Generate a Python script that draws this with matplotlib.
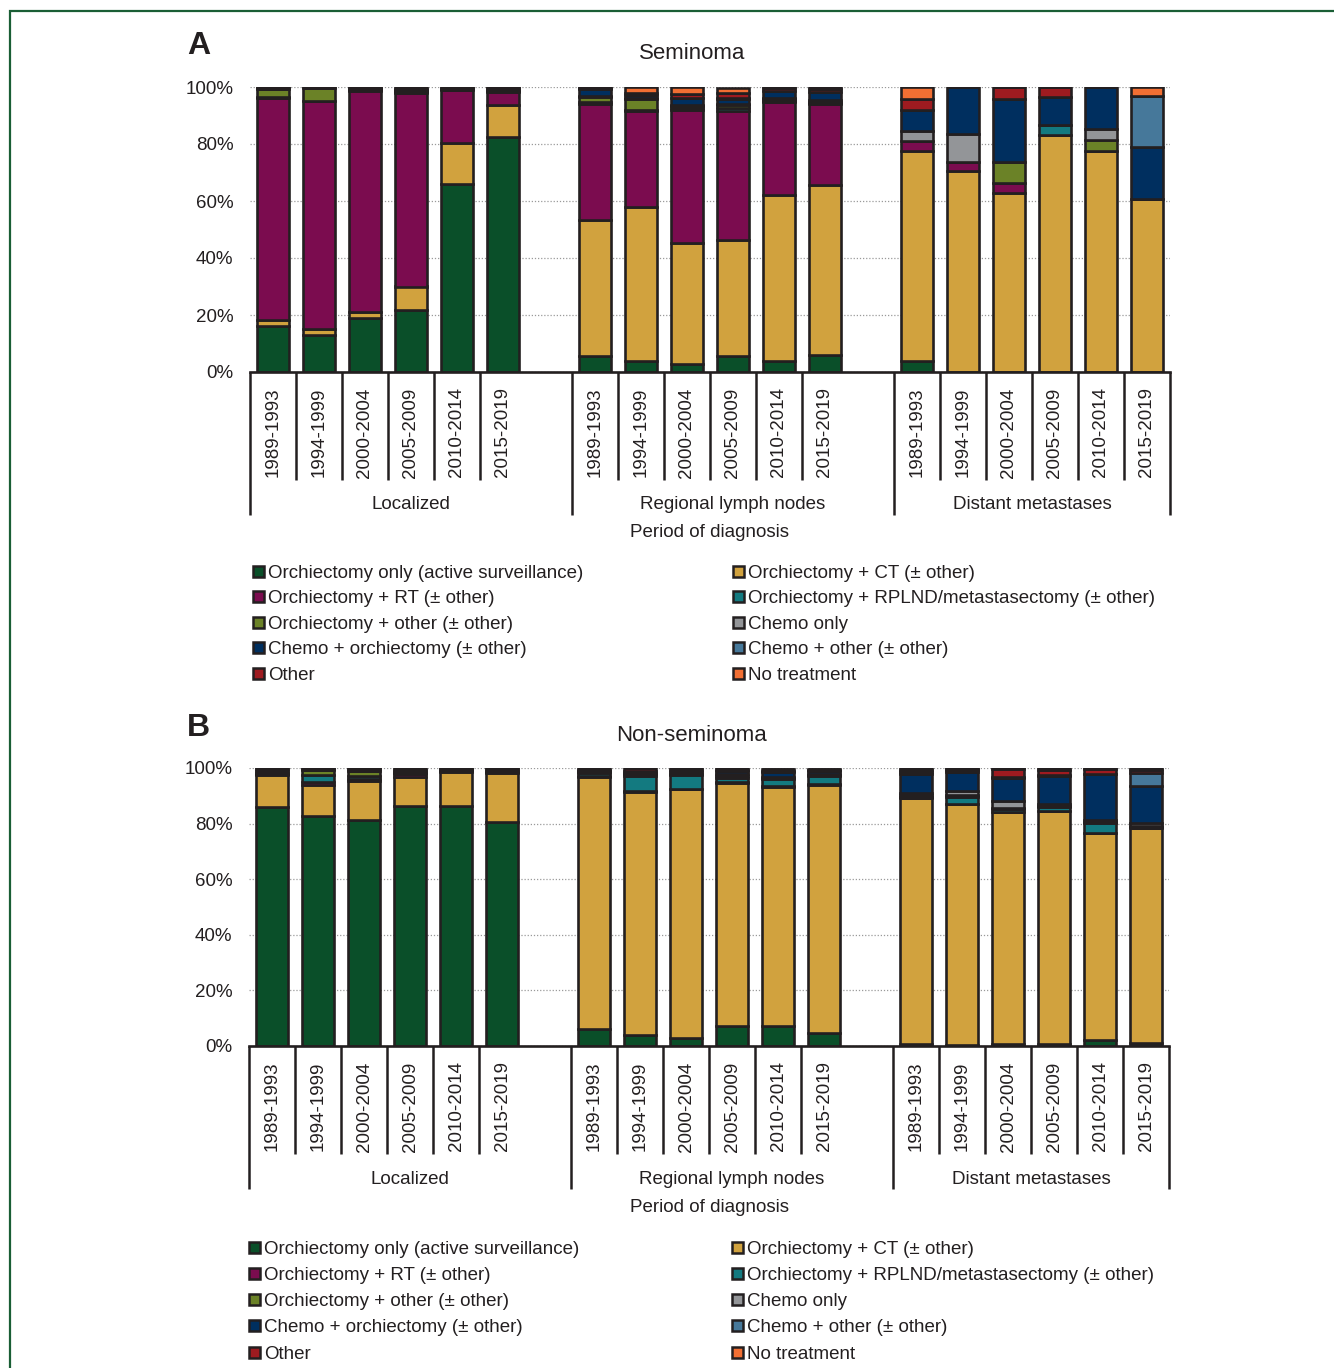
import numpy as np
import matplotlib
matplotlib.use("Agg")
from matplotlib import pyplot as plt
from matplotlib.patches import Rectangle
from matplotlib.transforms import blended_transform_factory

plt.rcParams['font.family'] = ['Liberation Sans', 'DejaVu Sans']

INK = '#231f20'

periods = ['1989-1993', '1994-1999', '2000-2004', '2005-2009', '2010-2014', '2015-2019']
stages = ['Localized', 'Regional lymph nodes', 'Distant metastases']

treatments = [
    'Orchiectomy only (active surveillance)',
    'Orchiectomy + CT (± other)',
    'Orchiectomy + RT (± other)',
    'Orchiectomy + RPLND/metastasectomy (± other)',
    'Orchiectomy + other (± other)',
    'Chemo only',
    'Chemo + orchiectomy (± other)',
    'Chemo + other (± other)',
    'Other',
    'No treatment',
]
colors = ['#0a4f29', '#d1a23e', '#7b0c4f', '#137a80', '#6b8227',
          '#939598', '#002f5f', '#46789a', '#9e1b20', '#f26f33']

# percentages per bar: rows = treatments (same order as above),
# columns = 6 periods x 3 stages (localized, regional, distant)
seminoma = np.array([
    # orchiectomy only
    [16.3, 13.1, 19.0, 21.8, 65.8, 82.3,   5.7, 3.7, 2.8, 5.5, 3.7, 6.0,    3.7, 0.0, 0.0, 0.0, 0.0, 0.0],
    # + CT
    [1.8, 1.9, 2.0, 8.2, 14.6, 11.3,       47.6, 54.3, 42.6, 40.8, 58.4, 59.6,   73.9, 70.6, 62.7, 83.1, 77.6, 60.6],
    # + RT
    [78.2, 80.0, 77.6, 68.0, 18.4, 4.6,    40.6, 33.6, 46.7, 45.2, 32.6, 28.3,   3.4, 3.1, 3.7, 0.0, 0.0, 0.0],
    # + RPLND
    [0.2, 0.2, 0.2, 0.3, 0.3, 0.3,         0.7, 0.3, 0.6, 1.0, 0.5, 0.5,    0.0, 0.0, 0.0, 3.5, 0.0, 0.0],
    # + other
    [2.9, 4.4, 0.4, 0.3, 0.3, 0.3,         2.0, 4.0, 0.8, 1.2, 0.5, 0.5,    0.0, 0.0, 7.3, 0.0, 3.7, 0.0],
    # chemo only
    [0.0, 0.0, 0.0, 0.2, 0.0, 0.0,         0.3, 0.3, 0.3, 0.4, 0.5, 0.5,    3.6, 9.7, 0.0, 0.0, 3.8, 0.0],
    # chemo + orchiectomy
    [0.3, 0.2, 0.4, 0.6, 0.4, 0.8,         2.4, 1.0, 2.4, 1.6, 2.5, 2.8,    7.5, 16.6, 22.2, 9.9, 14.9, 18.2],
    # chemo + other
    [0.0, 0.0, 0.0, 0.0, 0.0, 0.0,         0.0, 0.0, 0.0, 0.5, 0.0, 0.0,    0.0, 0.0, 0.0, 0.0, 0.0, 17.9],
    # other
    [0.3, 0.2, 0.4, 0.6, 0.2, 0.4,         0.5, 0.6, 1.5, 1.6, 0.8, 1.0,    3.6, 0.0, 4.1, 3.5, 0.0, 0.0],
    # no treatment
    [0.0, 0.0, 0.0, 0.0, 0.0, 0.0,         0.2, 2.2, 2.3, 1.7, 0.5, 0.8,    4.3, 0.0, 0.0, 0.0, 0.0, 3.3],
])

nonseminoma = np.array([
    # orchiectomy only
    [85.9, 82.7, 81.3, 86.3, 86.5, 80.7,   6.0, 3.8, 3.0, 7.2, 7.2, 4.6,    0.7, 0.5, 0.8, 0.8, 2.2, 1.0],
    # + CT
    [11.6, 11.2, 14.0, 10.6, 11.9, 17.4,   90.9, 87.6, 89.3, 87.3, 86.1, 89.3,   88.4, 86.4, 83.3, 83.9, 74.5, 77.3],
    # + RT
    [0.5, 1.0, 0.8, 0.8, 0.4, 0.4,         0.4, 0.3, 0.3, 0.3, 0.3, 0.3,    0.0, 0.0, 0.0, 0.0, 0.0, 0.0],
    # + RPLND
    [0.3, 2.5, 1.0, 0.5, 0.3, 0.3,         0.8, 5.6, 5.0, 1.5, 2.6, 3.1,    0.6, 2.5, 1.0, 1.2, 3.6, 0.6],
    # + other
    [0.5, 1.9, 2.0, 0.3, 0.3, 0.3,         0.5, 0.6, 0.3, 1.0, 0.3, 0.3,    0.5, 1.0, 0.5, 0.5, 0.3, 0.3],
    # chemo only
    [0.0, 0.0, 0.0, 0.0, 0.0, 0.0,         0.3, 0.3, 0.5, 0.4, 0.3, 0.3,    0.8, 1.3, 2.6, 0.5, 0.8, 1.0],
    # chemo + orchiectomy
    [0.7, 0.4, 0.5, 0.8, 0.3, 0.4,         0.5, 0.9, 1.0, 1.2, 1.9, 1.0,    6.8, 7.0, 8.1, 10.2, 16.3, 13.3],
    # chemo + other
    [0.0, 0.0, 0.0, 0.0, 0.0, 0.0,         0.0, 0.0, 0.0, 0.3, 0.3, 0.3,    0.8, 0.5, 0.5, 0.5, 0.3, 4.8],
    # other
    [0.5, 0.3, 0.4, 0.7, 0.3, 0.5,         0.6, 0.9, 0.6, 0.8, 0.7, 0.6,    0.8, 0.4, 2.9, 1.8, 1.8, 1.0],
    # no treatment
    [0.0, 0.0, 0.0, 0.0, 0.0, 0.0,         0.0, 0.0, 0.0, 0.0, 0.0, 0.0,    0.6, 0.4, 0.3, 0.6, 0.2, 0.7],
])

W, H = 1334, 1368
fig = plt.figure(figsize=(W / 100, H / 100), dpi=100)

# green frame around the figure
fig.patches.append(Rectangle((10 / W, -0.05), 1.1, 1 - 11 / H + 0.05, transform=fig.transFigure,
                             fill=False, edgecolor='#1a5e35', lw=1.6))


def px_box(left, top, right, bottom):
    return [left / W, 1 - bottom / H, (right - left) / W, (bottom - top) / H]


def draw_panel(box, data, title, letter, title_y, letter_y, legend_y, legend_x0, legend_x1,
               row_step):
    ax = fig.add_axes(px_box(*box))
    xpos = np.array([g * 7 + i for g in range(3) for i in range(6)])
    bottom = np.zeros(len(xpos))
    for k, name in enumerate(treatments):
        ax.bar(xpos, data[k], 0.68, bottom=bottom, color=colors[k],
               edgecolor=INK, linewidth=1.9, label=name, zorder=3)
        bottom += data[k]

    ax.set_xlim(-0.5, 19.5)
    ax.set_ylim(0, 100)
    ax.set_yticks(np.arange(0, 101, 20))
    ax.set_yticklabels([f'{v}%' for v in range(0, 101, 20)])
    ax.yaxis.grid(True, color='#9a9a9a', linestyle=(0, (1, 1.5)), linewidth=0.9)
    ax.set_axisbelow(True)
    for s in ['left', 'right', 'top']:
        ax.spines[s].set_visible(False)
    ax.spines['bottom'].set_color(INK)
    ax.spines['bottom'].set_linewidth(1.9)
    ax.spines['bottom'].set_zorder(4)

    ax.set_xticks(xpos)
    ax.set_xticklabels(periods * 3, rotation=90)
    ax.tick_params(axis='both', length=0, labelsize=13.5, colors=INK)
    ax.tick_params(axis='x', pad=11)
    ax.tick_params(axis='y', pad=12)

    # category separators below the axis (offsets in pixels under the baseline)
    height = box[3] - box[1]
    short = -108 / height
    long_ = -143 / height
    tr = blended_transform_factory(ax.transData, ax.transAxes)
    for k in range(21):
        if k in (6, 13):
            continue
        y1 = long_ if k in (0, 7, 14, 20) else short
        ax.plot([k - 0.5, k - 0.5], [0, y1], color=INK, lw=1.8, transform=tr,
                clip_on=False, solid_capstyle='butt')
    for g, stage in enumerate(stages):
        xc = g * 7 + 3.0 if g < 2 else g * 7 + 2.5
        ax.text(xc, -133 / height, stage, transform=tr, ha='center', va='center',
                fontsize=13.5, color=INK)
    ax.text(0.5, -161 / height, 'Period of diagnosis', transform=ax.transAxes,
            ha='center', va='center', fontsize=13.5, color=INK)

    fig.text(692 / W, 1 - (title_y + 2.5) / H, title, ha='center', va='center',
             fontsize=16, color=INK)
    fig.text(187 / W, 1 - (letter_y + 2.5) / H, letter, ha='left', va='center', fontsize=23,
             fontweight='bold', color=INK)

    # legend: two columns read row by row
    for k in range(len(treatments)):
        col, row = k % 2, k // 2
        x0 = legend_x0 if col == 0 else legend_x1
        y0 = legend_y + row * row_step
        fig.patches.append(Rectangle((x0 / W, 1 - (y0 + 5.5) / H), 11 / W, 11 / H,
                                     transform=fig.transFigure, facecolor=colors[k],
                                     edgecolor=INK, lw=1.8))
        fig.text((x0 + 15) / W, 1 - (y0 + 2) / H, treatments[k], ha='left', va='center',
                 fontsize=13.5, color=INK)
    return ax


draw_panel((250, 87, 1170, 372), seminoma, 'Seminoma', 'A', 51, 44, 571, 253, 733, 25.6)
draw_panel((249, 768, 1169, 1046), nonseminoma, 'Non-seminoma', 'B', 733, 725, 1247, 249, 732, 26.3)

fig.savefig('out.png', dpi=100)
